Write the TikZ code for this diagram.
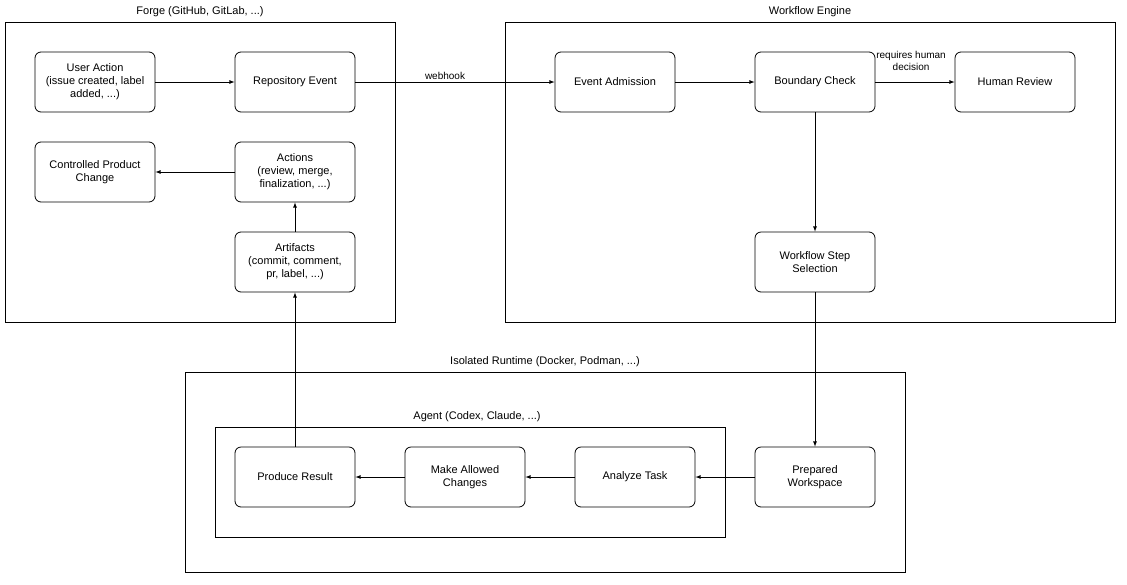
\documentclass[tikz,border=0pt]{standalone}
\usepackage{fontspec}
\setmainfont{Liberation Sans}
\begin{document}
\begin{tikzpicture}[x=1pt,y=-1pt,
  box/.style={draw,rounded corners=6pt,minimum width=120pt,minimum height=60pt,align=center,font=\fontsize{11}{13}\selectfont,line width=0.8pt,inner sep=2pt},
  cont/.style={draw,line width=0.8pt},
  ttl/.style={font=\fontsize{11}{13}\selectfont},
  lbl/.style={font=\fontsize{10}{12}\selectfont,align=center},
  arr/.style={-latex,line width=0.8pt}]
\useasboundingbox (0,0) rectangle (1127,584);
\draw[cont] (5,22) rectangle (395,322);
\draw[cont] (505,22) rectangle (1115,322);
\draw[cont] (185,372) rectangle (905,572);
\draw[cont] (215,427) rectangle (725,537);
\node[ttl] (t1) at (200,12) {Forge (GitHub, GitLab, ...)};
\node[ttl] (t2) at (810,12) {Workflow Engine};
\node[ttl] (t3) at (545,362) {Isolated Runtime (Docker, Podman, ...)};
\node[ttl] (t4) at (477,417) {Agent (Codex, Claude, ...)};
\node[box] (ua) at (95,82) {User Action\\(issue created, label\\added, ...)};
\node[box] (re) at (295,82) {Repository Event};
\node[box] (cp) at (95,172) {Controlled Product\\Change};
\node[box] (ac) at (295,172) {Actions\\(review, merge,\\finalization, ...)};
\node[box] (ar) at (295,262) {Artifacts\\(commit, comment,\\pr, label, ...)};
\node[box] (ea) at (615,82) {Event Admission};
\node[box] (bc) at (815,82) {Boundary Check};
\node[box] (hr) at (1015,82) {Human Review};
\node[box] (ws) at (815,262) {Workflow Step\\Selection};
\node[box] (pw) at (815,477) {Prepared\\Workspace};
\node[box] (at) at (635,477) {Analyze Task};
\node[box] (ma) at (465,477) {Make Allowed\\Changes};
\node[box] (pr) at (295,477) {Produce Result};
\draw[arr] (ua) -- (re);
\draw[arr] (re) -- node[lbl,above=-1pt,pos=0.45] {webhook} (ea);
\draw[arr] (ea) -- (bc);
\draw[arr] (bc) -- node[lbl,above=8pt,pos=0.45] {requires human\\decision} (hr);
\draw[arr] (bc) -- (ws);
\draw[arr] (ws) -- (pw);
\draw[arr] (pw) -- (at);
\draw[arr] (at) -- (ma);
\draw[arr] (ma) -- (pr);
\draw[arr] (pr) -- (ar);
\draw[arr] (ar) -- (ac);
\draw[arr] (ac) -- (cp);
\end{tikzpicture}
\end{document}
